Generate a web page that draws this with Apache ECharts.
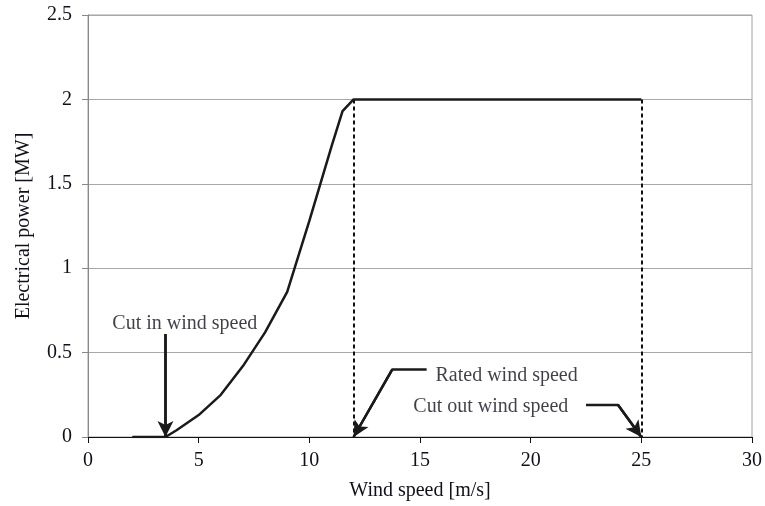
<!DOCTYPE html>
<html>
<head>
<meta charset="utf-8">
<script src="https://cdn.jsdelivr.net/npm/echarts@6/dist/echarts.min.js"></script>
<style>
    html, body { margin: 0; padding: 0; background: #fff; }
    #main { width: 765px; height: 506px; }
</style>
</head>
<body>
<div id="main"></div>
<script>
// wind speed [m/s] and electrical power [MW]
var windSpeed = [2, 3.5, 4, 5, 6, 7, 8, 9, 10, 11, 11.5, 12, 25];
var power = [0, 0, 0.04, 0.13, 0.25, 0.42, 0.62, 0.86, 1.28, 1.72, 1.93, 2, 2];
var yTicks = [0, 0.5, 1, 1.5, 2, 2.5];
var xTicks = [0, 5, 10, 15, 20, 25, 30];

// annotation arrows (polyline points in data units, last point = arrow tip)
var cutInArrow = [[3.5, 0.61], [3.5, 0]];
var ratedArrow = [[15.3, 0.4], [13.75, 0.4], [12, 0]];
var cutOutArrow = [[22.5, 0.19], [23.95, 0.19], [25, 0]];
var notes = [
    {name: 'Cut in wind speed', value: [1.1, 0.67]},
    {name: 'Rated wind speed', value: [15.7, 0.36]},
    {name: 'Cut out wind speed', value: [14.7, 0.177]}
];
var ratedSpeed = 12, cutOutSpeed = 25, ratedPower = 2;

var curve = windSpeed.map(function (v, i) { return [v, power[i]]; });
var font = 'Liberation Serif';
var textColor = '#10101c';

function arrowSeries(pts) {
    var n = pts.length;
    return {
        type: 'line',
        data: pts,
        symbol: 'none',
        lineStyle: { color: '#1a1a1a', width: 2.5 },
        z: 6,
        markLine: {
            silent: true,
            symbol: ['none', 'arrow'],
            symbolSize: [12, 16],
            label: { show: false },
            lineStyle: { color: '#1a1a1a', type: 'solid', width: 2.5 },
            data: [[{coord: pts[n - 2]}, {coord: pts[n - 1]}]]
        }
    };
}

var myChart = echarts.init(document.getElementById('main'));
var option = {
    animation: false,
    grid: {
        left: 88,
        right: 9,
        top: 15,
        bottom: 68,
        show: true,
        borderColor: '#a0a0a0',
        borderWidth: 1
    },
    xAxis: {
        type: 'value',
        min: 0,
        max: 30,
        interval: 5,
        name: 'Wind speed [m/s]',
        nameLocation: 'middle',
        nameGap: 44,
        nameTextStyle: { fontFamily: font, fontSize: 20, color: textColor },
        axisLine: { show: true, lineStyle: { color: '#111', width: 1 } },
        axisTick: { show: true, inside: false, length: 6, lineStyle: { color: '#111' } },
        axisLabel: { margin: 14, fontFamily: font, fontSize: 20, color: textColor },
        splitLine: { show: false }
    },
    yAxis: {
        type: 'value',
        min: 0,
        max: 2.5,
        interval: 0.5,
        name: 'Electrical power [MW]',
        nameLocation: 'middle',
        nameGap: 54,
        nameTextStyle: { fontFamily: font, fontSize: 20, color: textColor },
        axisLine: { show: true, lineStyle: { color: '#888', width: 1 } },
        axisTick: { show: true, inside: false, length: 6, lineStyle: { color: '#888' } },
        axisLabel: { margin: 16, fontFamily: font, fontSize: 20, color: textColor },
        splitLine: { show: true, lineStyle: { color: '#a8a8a8', width: 1 } }
    },
    series: [
        {
            // power curve
            type: 'line',
            data: curve,
            symbol: 'none',
            lineStyle: { color: '#1a1a1a', width: 2.5 },
            z: 5,
            markLine: {
                silent: true,
                symbol: 'none',
                label: { show: false },
                lineStyle: { color: '#111', type: [4, 3], width: 2 },
                data: [
                    [{coord: [ratedSpeed, ratedPower]}, {coord: [ratedSpeed, 0]}],
                    [{coord: [cutOutSpeed, ratedPower]}, {coord: [cutOutSpeed, 0]}]
                ]
            }
        },
        arrowSeries(cutInArrow),
        arrowSeries(ratedArrow),
        arrowSeries(cutOutArrow),
        {
            // annotation text
            type: 'scatter',
            symbolSize: 0,
            data: notes,
            label: {
                show: true,
                position: 'right',
                distance: 0,
                formatter: '{b}',
                fontFamily: font,
                fontSize: 20,
                color: textColor
            },
            z: 7
        }
    ]
};
myChart.setOption(option);
</script>
</body>
</html>
